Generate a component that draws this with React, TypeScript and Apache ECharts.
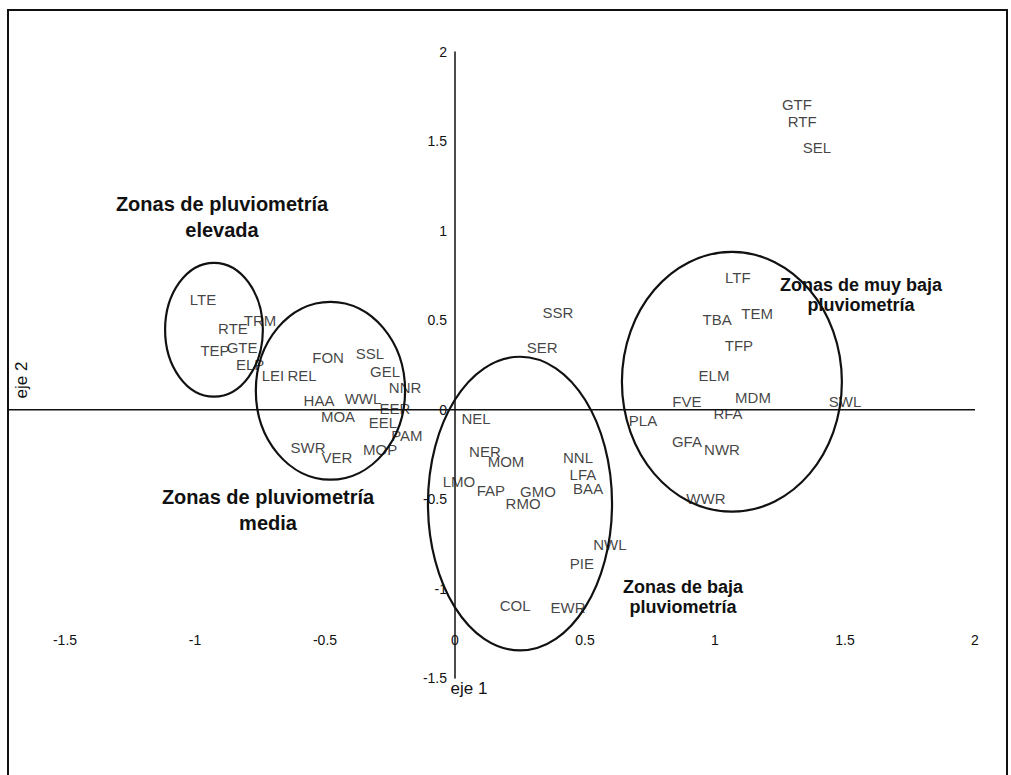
import React, { useEffect, useRef } from "react";
import * as echarts from "echarts";

const pointNames = [
  "GTF", "RTF", "SEL",
  "LTE", "RTE", "TRM", "TEP", "GTE", "ELP",
  "LEI", "REL", "FON", "SSL", "GEL", "NNR", "HAA", "WWL", "EER", "MOA", "EEL", "PAM", "SWR", "VER", "MOP",
  "NEL", "SSR", "SER", "NER", "MOM", "NNL", "LFA", "BAA", "LMO", "FAP", "GMO", "RMO", "NWL", "PIE", "COL", "EWR",
  "LTF", "TBA", "TEM", "TFP", "ELM", "MDM", "FVE", "SWL", "RFA", "PLA", "GFA", "NWR", "WWR",
];
const eje1 = [
  1.315, 1.335, 1.392,
  -0.969, -0.854, -0.75, -0.923, -0.819, -0.788,
  -0.7, -0.588, -0.488, -0.327, -0.269, -0.192, -0.523, -0.354, -0.231, -0.45, -0.277, -0.185, -0.565, -0.454, -0.288,
  0.081, 0.396, 0.335, 0.115, 0.196, 0.473, 0.492, 0.512, 0.015, 0.138, 0.319, 0.262, 0.596, 0.488, 0.231, 0.435,
  1.088, 1.008, 1.162, 1.092, 0.996, 1.146, 0.892, 1.5, 1.05, 0.723, 0.892, 1.027, 0.965,
];
const eje2 = [
  1.704, 1.609, 1.464,
  0.615, 0.453, 0.497, 0.33, 0.346, 0.251,
  0.19, 0.19, 0.291, 0.313, 0.212, 0.123, 0.05, 0.061, 0.006, -0.039, -0.073, -0.145, -0.212, -0.268, -0.223,
  -0.05, 0.542, 0.346, -0.235, -0.291, -0.268, -0.363, -0.441, -0.402, -0.453, -0.458, -0.525, -0.754, -0.86, -1.095, -1.106,
  0.737, 0.503, 0.536, 0.358, 0.19, 0.067, 0.045, 0.045, -0.022, -0.061, -0.179, -0.223, -0.497,
];

// zone ellipses: centre and radii in axis units
const ellipseCx = [-0.927, -0.479, 0.25, 1.065];
const ellipseCy = [0.447, 0.106, -0.525, 0.156];
const ellipseRx = [0.188, 0.287, 0.354, 0.423];
const ellipseRy = [0.374, 0.497, 0.821, 0.726];

const zoneLabels = [
  "Zonas de pluviometría\nelevada",
  "Zonas de pluviometría\nmedia",
  "Zonas de baja\npluviometría",
  "Zonas de muy baja\npluviometría",
];

const axisMin = -1.5;
const axisMax = 2;
const axisStep = 0.5;
const zeroLineStart = -1.72;

export default function App() {
  const ref = useRef<HTMLDivElement>(null);
  useEffect(() => {
    if (!ref.current) return;
    const chart = echarts.init(ref.current, null, { renderer: "svg" });
    const ink = "#111111";
    const font = "'Liberation Sans', Arial, sans-serif";
    const points = pointNames.map((n, i) => ({ name: n, value: [eje1[i], eje2[i]] }));
    const ellipses = ellipseCx.map((c, i) => [c, ellipseCy[i], ellipseRx[i], ellipseRy[i]]);

    const gridLeft = 65;
    const gridRight = 36;
    const plotWidth = 1011 - gridLeft - gridRight;
    // place the y axis at x = 0 of the horizontal scale
    const yAxisOffset = -((0 - axisMin) / (axisMax - axisMin)) * plotWidth;

    chart.setOption({
      animation: false,
      backgroundColor: "#ffffff",
      grid: { left: gridLeft, right: gridRight, top: 52, bottom: 97, containLabel: false },
      xAxis: {
        type: "value",
        min: axisMin,
        max: axisMax,
        interval: axisStep,
        offset: -45,
        axisLine: { show: false, onZero: false },
        axisTick: { show: false },
        splitLine: { show: false },
        axisLabel: { margin: 0, fontSize: 14, color: ink, fontFamily: font },
      },
      yAxis: {
        type: "value",
        min: axisMin,
        max: axisMax,
        interval: axisStep,
        offset: yAxisOffset,
        axisLine: { show: true, onZero: false, lineStyle: { color: ink, width: 1.5 } },
        axisTick: { show: false },
        splitLine: { show: false },
        axisLabel: { margin: 8, fontSize: 14, color: ink, fontFamily: font },
      },
      series: [
        {
          type: "custom",
          silent: true,
          clip: false,
          data: ellipses,
          encode: { x: 0, y: 1 },
          z: 2,
          renderItem: (params: any, api: any) => {
            const c = api.coord([api.value(0), api.value(1)]);
            const s = api.size([api.value(2), api.value(3)]);
            return {
              type: "ellipse",
              shape: { cx: c[0], cy: c[1], rx: s[0], ry: s[1] },
              style: { fill: "none", stroke: ink, lineWidth: 2.2 },
            };
          },
        },
        {
          type: "scatter",
          data: points,
          symbolSize: 0,
          silent: true,
          z: 3,
          label: {
            show: true,
            position: "inside",
            formatter: "{b}",
            fontSize: 15,
            color: ink,
            fontFamily: font,
          },
        },
      ],
    });

    const p0 = chart.convertToPixel({ xAxisIndex: 0, yAxisIndex: 0 }, [zeroLineStart, 0]) as number[];
    const p1 = chart.convertToPixel({ xAxisIndex: 0, yAxisIndex: 0 }, [axisMax, 0]) as number[];

    chart.setOption({
      graphic: [
        {
          type: "line",
          shape: { x1: p0[0], y1: p0[1], x2: p1[0], y2: p1[1] },
          style: { stroke: ink, lineWidth: 1.5 },
          z: 1,
        },
        {
          type: "polyline",
          shape: { points: [[8, 775], [8, 10], [1007, 10], [1007, 775]] },
          style: { stroke: ink, lineWidth: 2, fill: "none" },
        },
        {
          type: "text", x: 222, y: 217,
          style: { text: zoneLabels[0], font: `bold 20px ${font}`, fill: ink, align: "center", verticalAlign: "middle", lineHeight: 26 },
        },
        {
          type: "text", x: 268, y: 510,
          style: { text: zoneLabels[1], font: `bold 20px ${font}`, fill: ink, align: "center", verticalAlign: "middle", lineHeight: 26 },
        },
        {
          type: "text", x: 683, y: 597,
          style: { text: zoneLabels[2], font: `bold 18px ${font}`, fill: ink, align: "center", verticalAlign: "middle", lineHeight: 20 },
        },
        {
          type: "text", x: 861, y: 295,
          style: { text: zoneLabels[3], font: `bold 18px ${font}`, fill: ink, align: "center", verticalAlign: "middle", lineHeight: 20 },
        },
        {
          type: "text", x: 469, y: 688,
          style: { text: "eje 1", font: `17px ${font}`, fill: ink, align: "center", verticalAlign: "middle" },
        },
        {
          type: "text", x: 21, y: 380, rotation: Math.PI / 2,
          style: { text: "eje 2", font: `17px ${font}`, fill: ink, align: "center", verticalAlign: "middle" },
        },
      ],
    });
    return () => chart.dispose();
  }, []);
  return (
    <div
      ref={ref}
      style={{ position: "absolute", left: 0, top: 0, width: 1011, height: 775, background: "#fff" }}
    />
  );
}
